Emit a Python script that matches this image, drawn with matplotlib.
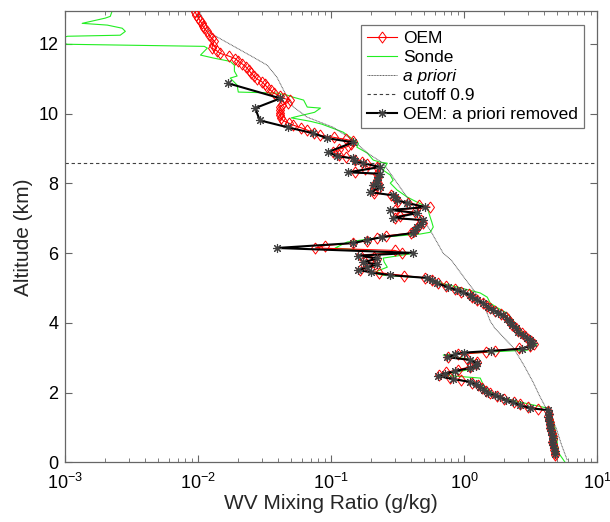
import matplotlib
matplotlib.use("Agg")
import matplotlib.pyplot as plt
from matplotlib.ticker import LogLocator, LogFormatterSciNotation, NullFormatter

plt.rcParams['font.family'] = ['Liberation Sans', 'DejaVu Sans']
plt.rcParams['mathtext.fontset'] = 'custom'
plt.rcParams['mathtext.rm'] = 'Liberation Sans'
plt.rcParams['mathtext.it'] = 'Liberation Sans:italic'

# ---------------- data ----------------
oem_alt = [0.22, 0.28, 0.36, 0.44, 0.52, 0.60, 0.68, 0.76, 0.84, 0.92, 1.00, 1.08, 1.16, 1.24,
           1.32, 1.40, 1.48, 1.54, 1.60, 1.67, 1.74, 1.82, 1.90, 1.98, 2.06, 2.14, 2.21, 2.29,
           2.36, 2.43, 2.50, 2.58, 2.66, 2.74, 2.82, 2.89, 2.96, 3.03, 3.10, 3.16, 3.21, 3.27,
           3.34, 3.41, 3.48, 3.55, 3.62, 3.70, 3.78, 3.86, 3.94, 4.02, 4.10, 4.18, 4.26, 4.34,
           4.42, 4.50, 4.58, 4.66, 4.74, 4.82, 4.90, 4.98, 5.06, 5.14, 5.22, 5.29, 5.36, 5.44,
           5.52, 5.60, 5.68, 5.75, 5.82, 5.88, 5.95, 6.02, 6.08, 6.15, 6.22, 6.29, 6.36, 6.43,
           6.50, 6.58, 6.65, 6.72, 6.80, 6.88, 6.95, 7.01, 7.08, 7.17, 7.24, 7.32, 7.37, 7.44,
           7.51, 7.58, 7.66, 7.74, 7.80, 7.88, 7.95, 8.02, 8.10, 8.18, 8.26, 8.32, 8.40, 8.48,
           8.56, 8.62, 8.68, 8.75, 8.82, 8.90, 8.98, 9.06, 9.14, 9.21, 9.26, 9.32, 9.38, 9.45,
           9.53, 9.60, 9.67, 9.73, 9.80, 9.88, 9.95, 10.02, 10.10, 10.19, 10.25, 10.32, 10.39,
           10.44, 10.51, 10.59, 10.67, 10.76, 10.84, 10.92, 11.00, 11.08, 11.16, 11.25, 11.33,
           11.42, 11.50, 11.58, 11.65, 11.73, 11.80, 11.88, 11.98, 12.08, 12.16, 12.25, 12.36,
           12.45, 12.52, 12.60, 12.67, 12.75, 12.83, 12.91]
oem_wv = [4.85, 4.80, 4.75, 4.70, 4.62, 4.58, 4.62, 4.65, 4.55, 4.50, 4.45, 4.40, 4.40, 4.35,
          4.30, 4.35, 4.30, 3.60, 3.00, 2.65, 2.35, 2.00, 1.75, 1.55, 1.45, 1.35, 1.27, 1.15,
          0.95, 0.78, 0.65, 0.73, 0.90, 1.10, 1.22, 1.25, 1.05, 0.76, 0.90, 1.45, 1.70, 2.60,
          3.10, 3.35, 3.20, 3.00, 2.85, 2.70, 2.55, 2.45, 2.30, 2.22, 2.15, 2.05, 1.90, 1.70,
          1.57, 1.48, 1.38, 1.25, 1.15, 1.08, 0.95, 0.85, 0.73, 0.63, 0.57, 0.51, 0.35, 0.23,
          0.165, 0.19, 0.215, 0.18, 0.22, 0.21, 0.165, 0.34, 0.30, 0.076, 0.09, 0.146, 0.187, 0.22,
          0.26, 0.40, 0.42, 0.44, 0.46, 0.49, 0.47, 0.30, 0.33, 0.43, 0.30, 0.555, 0.46, 0.38,
          0.32, 0.30, 0.28, 0.21, 0.21, 0.23, 0.21, 0.225, 0.22, 0.225, 0.22, 0.15, 0.18, 0.222,
          0.187, 0.17, 0.15, 0.13, 0.115, 0.1035, 0.115, 0.133, 0.14, 0.146, 0.13, 0.105, 0.083, 0.074,
          0.066, 0.059, 0.052, 0.048, 0.0436, 0.042, 0.0414, 0.0412, 0.041, 0.0414, 0.043, 0.047, 0.049,
          0.044, 0.041, 0.037, 0.035, 0.033, 0.0315, 0.030, 0.0275, 0.0262, 0.025, 0.024, 0.023,
          0.0215, 0.020, 0.019, 0.017, 0.0146, 0.0138, 0.0127, 0.0128, 0.0132, 0.0126, 0.0121, 0.0116,
          0.0111, 0.0108, 0.0106, 0.0103, 0.0100, 0.0097, 0.0095]

rem_alt = [0.25, 0.33, 0.42, 0.50, 0.60, 0.70, 0.80, 0.90, 1.00, 1.10, 1.20, 1.30, 1.40, 1.50,
           1.56, 1.65, 1.73, 1.80, 1.87, 1.94, 2.00, 2.08, 2.16, 2.24, 2.31, 2.39, 2.48, 2.55,
           2.62, 2.71, 2.78, 2.85, 2.94, 3.02, 3.10, 3.15, 3.20, 3.26, 3.34, 3.42, 3.50, 3.57,
           3.66, 3.75, 3.85, 3.95, 4.03, 4.12, 4.23, 4.30, 4.37, 4.46, 4.57, 4.66, 4.74, 4.80,
           4.88, 4.94, 5.03, 5.14, 5.22, 5.29, 5.37, 5.45, 5.52, 5.60, 5.68, 5.74, 5.85, 5.93,
           6.01, 6.15, 6.29, 6.38, 6.46, 6.58, 6.66, 6.75, 6.85, 6.95, 7.01, 7.15, 7.24, 7.32,
           7.44, 7.52, 7.60, 7.66, 7.75, 7.89, 7.95, 8.02, 8.09, 8.18, 8.28, 8.32, 8.47, 8.58,
           8.64, 8.72, 8.78, 8.90, 9.18, 9.30, 9.44, 9.61, 9.81, 10.16, 10.44, 10.87]
rem_wv = [4.80, 4.78, 4.70, 4.62, 4.60, 4.65, 4.55, 4.50, 4.42, 4.38, 4.35, 4.28, 4.35, 4.25,
          3.10, 2.64, 2.33, 2.05, 1.87, 1.70, 1.50, 1.42, 1.32, 1.22, 1.11, 0.83, 0.63, 0.72,
          0.85, 1.11, 1.22, 1.25, 1.11, 0.745, 0.85, 1.00, 1.60, 2.70, 3.10, 3.30, 3.15, 2.98,
          2.75, 2.55, 2.45, 2.30, 2.22, 2.10, 1.96, 1.80, 1.65, 1.52, 1.39, 1.25, 1.15, 1.11,
          0.98, 0.885, 0.75, 0.627, 0.57, 0.527, 0.278, 0.20, 0.160, 0.187, 0.222, 0.174, 0.222, 0.160,
          0.414, 0.039, 0.146, 0.187, 0.24, 0.414, 0.43, 0.443, 0.47, 0.49, 0.29, 0.443, 0.278, 0.51,
          0.373, 0.313, 0.30, 0.29, 0.196, 0.233, 0.207, 0.222, 0.222, 0.225, 0.233, 0.134, 0.233, 0.174,
          0.151, 0.146, 0.111, 0.095, 0.146, 0.093, 0.073, 0.047, 0.029, 0.0268, 0.0414, 0.0168]

sonde_alt = [0.00, 0.30, 0.64, 0.90, 1.22, 1.40, 1.56, 1.65, 1.75, 1.85, 1.99, 2.08, 2.20, 2.42,
             2.51, 2.60, 2.70, 2.79, 2.94, 3.08, 3.17, 3.22, 3.37, 3.55, 3.71, 3.90, 4.08, 4.28,
             4.45, 4.57, 4.74, 4.86, 5.03, 5.17, 5.29, 5.37, 5.43, 5.52, 5.60, 5.75, 5.86, 5.98,
             6.02, 6.15, 6.32, 6.40, 6.46, 6.55, 6.60, 6.75, 6.90, 7.03, 7.32, 7.52, 7.61, 7.81,
             8.01, 8.09, 8.24, 8.38, 8.58, 8.61, 8.67, 8.87, 9.04, 9.15, 9.47, 9.70, 9.78, 9.88,
             10.04, 10.16, 10.19, 10.39, 10.47, 10.53, 10.59, 10.62, 10.82, 11.02, 11.08, 11.22,
             11.39, 11.50, 11.59, 11.68, 11.88, 11.93, 11.99, 12.10, 12.22, 12.25, 12.36, 12.45,
             12.54, 12.59, 12.74, 12.79, 12.94]
sonde_wv = [5.75, 5.07, 4.99, 4.85, 4.67, 4.45, 4.21, 3.30, 2.50, 1.96, 1.65, 1.49, 1.40, 1.32,
            0.66, 0.90, 1.20, 1.25, 1.17, 0.695, 1.57, 2.98, 3.50, 3.10, 2.78, 2.50, 2.33, 2.10,
            1.75, 1.57, 1.49, 1.32, 0.885, 0.627, 0.527, 0.246, 0.207, 0.233, 0.264, 0.25, 0.246, 0.393,
            0.264, 0.107, 0.132, 0.187, 0.246, 0.467, 0.555, 0.585, 0.57, 0.555, 0.527, 0.414, 0.373, 0.313,
            0.278, 0.292, 0.278, 0.246, 0.264, 0.233, 0.207, 0.187, 0.156, 0.160, 0.123, 0.085, 0.070, 0.050,
            0.075, 0.083, 0.066, 0.062, 0.052, 0.0467, 0.039, 0.020, 0.0196, 0.0174, 0.0196, 0.0187,
            0.0187, 0.0174, 0.0132, 0.0104, 0.0117, 0.0111, 0.00104, 0.0008, 0.00104, 0.00259, 0.00283, 0.00268,
            0.00207, 0.00134, 0.0020, 0.00218, 0.00225]

apriori_alt = [0.07, 0.50, 1.00, 1.50, 1.90, 2.30, 2.80, 3.30, 3.85, 4.05, 4.30, 4.60, 4.90, 5.30,
               5.80, 6.00, 6.66, 8.58, 8.87, 9.24, 9.61, 9.90, 10.19, 10.47, 11.05, 11.39, 11.62,
               12.31, 12.93]
apriori_wv = [5.95, 5.40, 4.90, 4.20, 3.70, 3.30, 2.80, 2.33, 1.70, 1.57, 1.48, 1.35, 1.20, 1.00,
              0.80, 0.695, 0.555, 0.246, 0.187, 0.146, 0.1035, 0.066, 0.052, 0.0467, 0.039, 0.033, 0.0259,
              0.0123, 0.0102]

cutoff_alt = 8.60
xlim = (1e-3, 1e1)
ylim = (0, 12.93)
yticks = [0, 2, 4, 6, 8, 10, 12]
labels = ['OEM', 'Sonde', 'a priori', 'cutoff 0.9', 'OEM: a priori removed']

# ---------------- plot ----------------
fig = plt.figure(figsize=(6.10, 5.22), dpi=100)
ax = fig.add_axes([0.107, 0.114, 0.872, 0.864])

diamond = [(0, 1), (0.72, 0), (0, -1), (-0.72, 0), (0, 1)]
ax.plot(oem_wv, oem_alt, color='red', lw=0.8, marker=diamond, ms=8,
        mfc='none', mec='red', mew=0.7, label=labels[0], zorder=3)
ax.plot(sonde_wv, sonde_alt, color='#22ee22', lw=0.8, label=labels[1], zorder=2)
ax.plot(apriori_wv, apriori_alt, color='0.35', lw=0.7, ls=(0, (1, 0.6)), label=labels[2], zorder=2)
ax.axhline(cutoff_alt, color='0.25', lw=0.8, ls=(0, (3, 2.5)), label=labels[3], zorder=1)
ax.plot(rem_wv, rem_alt, color='black', lw=1.5, marker=(8, 2, 0), ms=6.5,
        mec='0.25', mew=0.8, label=labels[4], zorder=4)

ax.set_xscale('log')
ax.set_xlim(*xlim)
ax.set_ylim(*ylim)
ax.set_yticks(yticks)
ax.xaxis.set_major_locator(LogLocator(base=10, numticks=10))
ax.xaxis.set_major_formatter(LogFormatterSciNotation())
ax.xaxis.set_minor_locator(LogLocator(base=10, subs=range(2, 10), numticks=20))
ax.xaxis.set_minor_formatter(NullFormatter())

for s in ax.spines.values():
    s.set_color('0.4')
    s.set_linewidth(0.9)
ax.tick_params(which='both', direction='in', top=True, right=True, colors='0.4',
               labelcolor='black', labelsize=13)
ax.tick_params(which='major', length=5, width=0.8)
ax.tick_params(which='minor', length=3, width=0.6)
ax.tick_params(axis='x', pad=7.5)
ax.tick_params(axis='y', pad=5)

ax.set_xlabel('WV Mixing Ratio (g/kg)', fontsize=15, color='0.15', labelpad=1)
ax.set_ylabel('Altitude (km)', fontsize=15, color='0.15', labelpad=4)

leg = ax.legend(loc='upper right', fontsize=12.5, frameon=True, fancybox=False,
                edgecolor='0.45', framealpha=1, handlelength=1.75, handletextpad=0.35,
                borderpad=0.35, labelspacing=0.22, borderaxespad=0.75)
leg.get_frame().set_linewidth(0.9)
leg.get_texts()[2].set_fontstyle('italic')

fig.savefig('out.png', dpi=100)
